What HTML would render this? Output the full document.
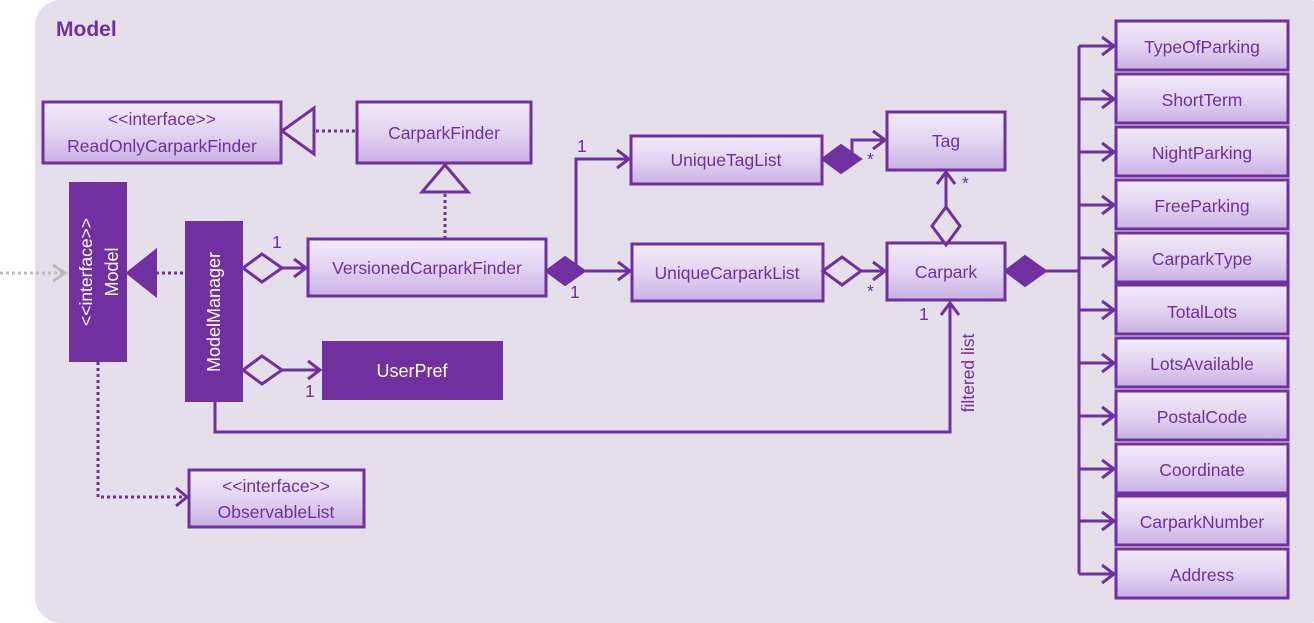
<!DOCTYPE html>
<html><head><meta charset="utf-8"><style>
html,body{margin:0;padding:0;background:#fff}
svg{display:block}
text{font-family:"Liberation Sans",sans-serif;fill:#7030A0;font-size:17.5px}
</style></head><body>
<svg width="1314" height="623" viewBox="0 0 1314 623" xmlns="http://www.w3.org/2000/svg">
<defs>
<linearGradient id="g" x1="0" y1="0" x2="0" y2="1">
<stop offset="0" stop-color="#F1EBF9"/><stop offset="0.5" stop-color="#E2D4F2"/><stop offset="1" stop-color="#C9B1E3"/>
</linearGradient>
</defs>
<rect x="35" y="0" width="1300" height="623" rx="26" fill="#E5DFEC"/>
<text x="56" y="36" style="font-size:21px;font-weight:bold">Model</text>

<g stroke="#7030A0" stroke-width="3" fill="url(#g)">
<rect x="43" y="102" width="238" height="61"/>
<rect x="357" y="102" width="174" height="61"/>
<rect x="308" y="239" width="238" height="57"/>
<rect x="631" y="136" width="191" height="48"/>
<rect x="632" y="244" width="191" height="57"/>
<rect x="887" y="112" width="118" height="58"/>
<rect x="887" y="243" width="118" height="57"/>
<rect x="189" y="470" width="175" height="57"/>
</g>
<g stroke="#7030A0" stroke-width="3" fill="url(#g)">
<rect x="1116" y="21" width="172" height="49"/>
<rect x="1116" y="74" width="172" height="49"/>
<rect x="1116" y="127" width="172" height="49"/>
<rect x="1116" y="180" width="172" height="49"/>
<rect x="1116" y="233" width="172" height="49"/>
<rect x="1116" y="285" width="172" height="49"/>
<rect x="1116" y="338" width="172" height="49"/>
<rect x="1116" y="391" width="172" height="49"/>
<rect x="1116" y="444" width="172" height="49"/>
<rect x="1116" y="496" width="172" height="49"/>
<rect x="1116" y="549" width="172" height="49"/>
</g>
<rect x="69" y="182" width="58" height="180" fill="#7030A0"/>
<rect x="185" y="221" width="58" height="181" fill="#7030A0"/>
<rect x="322" y="341" width="181" height="59" fill="#7030A0"/>

<g text-anchor="middle">
<text x="162" y="125">&lt;&lt;interface&gt;&gt;</text>
<text x="162" y="152">ReadOnlyCarparkFinder</text>
<text x="444" y="139">CarparkFinder</text>
<text x="427" y="274">VersionedCarparkFinder</text>
<text x="726" y="166">UniqueTagList</text>
<text x="727" y="279">UniqueCarparkList</text>
<text x="946" y="147">Tag</text>
<text x="946" y="278">Carpark</text>
<text x="276" y="492">&lt;&lt;interface&gt;&gt;</text>
<text x="276" y="518">ObservableList</text>
<text x="412" y="377" style="fill:#fff;font-size:18px">UserPref</text>
<text x="1202" y="53">TypeOfParking</text>
<text x="1202" y="106">ShortTerm</text>
<text x="1202" y="159">NightParking</text>
<text x="1202" y="212">FreeParking</text>
<text x="1202" y="265">CarparkType</text>
<text x="1202" y="318">TotalLots</text>
<text x="1202" y="370">LotsAvailable</text>
<text x="1202" y="423">PostalCode</text>
<text x="1202" y="476">Coordinate</text>
<text x="1202" y="528">CarparkNumber</text>
<text x="1202" y="581">Address</text>
<text transform="translate(92,272) rotate(-90)" style="fill:#fff">&lt;&lt;interface&gt;&gt;</text>
<text transform="translate(118,272) rotate(-90)" style="fill:#fff;font-size:18px">Model</text>
<text transform="translate(220,312) rotate(-90)" style="fill:#fff;font-size:18px">ModelManager</text>
<text transform="translate(974,373) rotate(-90)">filtered list</text>
</g>
<g style="font-size:18px">
<text x="272" y="248">1</text>
<text x="305" y="397">1</text>
<text x="577" y="152">1</text>
<text x="570" y="298">1</text>
<text x="867" y="165">*</text>
<text x="867" y="297">*</text>
<text x="962" y="189">*</text>
<text x="919" y="320">1</text>
</g>

<g stroke="#7030A0" stroke-width="3" fill="none">
<polygon points="282,131 314,108 314,154"/>
<line x1="316" y1="131" x2="357" y2="131" stroke-dasharray="3,3"/>
<polygon points="445,165 468,192 422,192"/>
<line x1="445" y1="194" x2="445" y2="238" stroke-dasharray="3,3"/>
<line x1="156" y1="273" x2="185" y2="273" stroke-dasharray="3,3"/>
<polygon points="243,268 262,254 282,268 262,282"/>
<line x1="282" y1="268" x2="306" y2="268"/><polyline points="294,259 306,268 294,277"/>
<polygon points="243,370 262,356 282,370 262,384"/>
<line x1="282" y1="370" x2="320" y2="370"/><polyline points="308,361 320,370 308,379"/>
<polyline points="215,402 215,432 950,432 950,303"/><polyline points="941,315 950,303 959,315"/>
<polyline points="98,362 98,497 186,497" stroke-dasharray="3,3"/><polyline points="176,488 187,497 176,506"/>
<polyline points="576,271 576,159 629,159"/><polyline points="617,150 629,159 617,168"/>
<line x1="585" y1="271" x2="630" y2="271"/><polyline points="618,262 630,271 618,280"/>
<polyline points="852,159 852,140 885,140"/><polyline points="873,131 885,140 873,149"/>
<polygon points="823,271 842,257 861,271 842,285"/>
<line x1="861" y1="271" x2="885" y2="271"/><polyline points="873,262 885,271 873,280"/>
<polygon points="946,245 960,226 946,207 932,226"/>
<line x1="946" y1="207" x2="946" y2="172"/><polyline points="937,184 946,172 955,184"/>
<line x1="1046" y1="271" x2="1079" y2="271"/>
<line x1="1079" y1="46" x2="1079" y2="574"/>
<g>
<path d="M1079 46H1114M1102 37L1114 46L1102 55"/>
<path d="M1079 99H1114M1102 90L1114 99L1102 108"/>
<path d="M1079 152H1114M1102 143L1114 152L1102 161"/>
<path d="M1079 205H1114M1102 196L1114 205L1102 214"/>
<path d="M1079 258H1114M1102 249L1114 258L1102 267"/>
<path d="M1079 310H1114M1102 301L1114 310L1102 319"/>
<path d="M1079 363H1114M1102 354L1114 363L1102 372"/>
<path d="M1079 416H1114M1102 407L1114 416L1102 425"/>
<path d="M1079 469H1114M1102 460L1114 469L1102 478"/>
<path d="M1079 521H1114M1102 512L1114 521L1102 530"/>
<path d="M1079 574H1114M1102 565L1114 574L1102 583"/>
</g>
</g>
<g fill="#7030A0" stroke="#7030A0" stroke-width="2">
<polygon points="127,273 156,250 156,296"/>
<polygon points="546,271 565,257 585,271 565,285"/>
<polygon points="822,159 841,145 861,159 841,173"/>
<polygon points="1005,271 1025,256 1046,271 1025,286"/>
</g>
<g stroke="#BBBBBB" stroke-width="3" fill="none">
<line x1="0" y1="273" x2="64" y2="273" stroke-dasharray="3,3"/>
<polyline points="53,265 65,273 53,281"/>
</g>
</svg>
</body></html>
